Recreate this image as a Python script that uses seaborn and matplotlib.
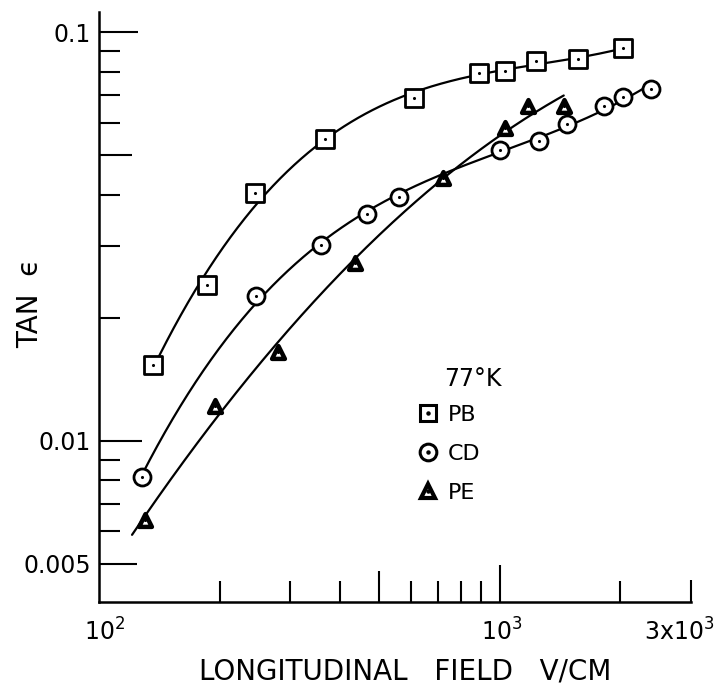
import numpy as np
import pandas as pd
import matplotlib
matplotlib.use("Agg")
import matplotlib.pyplot as plt
import matplotlib.transforms as mtransforms
import seaborn as sns
from matplotlib.lines import Line2D
from matplotlib.legend_handler import HandlerTuple

# Loss tangent versus longitudinal field at 77 K
pb_field = [136, 186, 245, 366, 610, 888, 1033, 1230, 1567, 2030]
pb_tan = [0.0153, 0.0240, 0.0403, 0.0546, 0.0691, 0.0795, 0.0804, 0.0849, 0.0858, 0.0912]

cd_field = [128, 246, 359, 465, 561, 1000, 1253, 1472, 1820, 2030, 2390]
cd_tan = [0.00816, 0.0226, 0.0302, 0.0358, 0.0395, 0.0514, 0.0542, 0.0595, 0.0660, 0.0694, 0.0725]

pe_field = [130, 195, 280, 435, 722, 1033, 1173, 1444]
pe_tan = [0.0064, 0.01216, 0.0165, 0.0272, 0.0439, 0.0583, 0.0659, 0.0659]

series_names = ["PB", "CD", "PE"]
series_markers = ["s", "o", "^"]
legend_title = "77°K"

x_major = [100, 500, 1000, 3000]
x_major_labels = [r"$10^2$", "", r"$10^3$", r"$3\mathrm{x}10^3$"]
x_minor = [200, 300, 400, 600, 700, 800, 900, 2000]
y_major = [0.005, 0.01, 0.05, 0.1]
y_major_labels = ["0.005", "0.01", "", "0.1"]
y_minor = [0.006, 0.007, 0.008, 0.009, 0.02, 0.03, 0.04, 0.06, 0.07, 0.08, 0.09]

sns.set_style("ticks")
plt.rcParams["font.family"] = ["DejaVu Sans"]
ink = "black"
plt.rcParams.update({"text.color": ink, "axes.labelcolor": ink,
                     "xtick.color": ink, "ytick.color": ink})

fig = plt.figure(figsize=(7.21, 6.85), dpi=100)
ax = fig.add_axes([99 / 721, 0.1216, 592 / 721, 0.861])

data = {
    "PB": (pb_field, pb_tan, 3),
    "CD": (cd_field, cd_tan, 3),
    "PE": (pe_field, pe_tan, 2),
}
curve_start = {"PB": 1.0, "CD": 1.0, "PE": 0.93}
marker_size = {"s": 150, "o": 150, "^": 85}
marker_edge = {"s": 2.0, "o": 2.0, "^": 3.2}

for name, marker in zip(series_names, series_markers):
    fx, ty, deg = data[name]
    lx, ly = np.log10(fx), np.log10(ty)
    coef = np.polyfit(lx, ly, deg)
    gx = np.linspace(lx.min() + np.log10(curve_start[name]), lx.max(), 200)
    curve = pd.DataFrame({"field": 10 ** gx, "tan": 10 ** np.polyval(coef, gx)})
    sns.lineplot(data=curve, x="field", y="tan", ax=ax, color=ink, lw=1.6,
                 sort=False, zorder=2)
    pts = pd.DataFrame({"field": fx, "tan": ty})
    sns.scatterplot(data=pts, x="field", y="tan", ax=ax, marker=marker,
                    s=marker_size[marker], facecolor="white", edgecolor=ink,
                    linewidth=marker_edge[marker], zorder=3)
    sns.scatterplot(data=pts, x="field", y="tan", ax=ax, marker="o", s=5,
                    color=ink, edgecolor=ink, linewidth=0, zorder=4)

ax.set_xscale("log")
ax.set_yscale("log")
ax.set_xlim(100, 3000)
ax.set_ylim(0.00404, 0.112)

ax.set_xticks(x_major)
ax.set_xticklabels(x_major_labels)
ax.set_xticks(x_minor, minor=True)
ax.set_xticklabels([""] * len(x_minor), minor=True)
ax.set_yticks(y_major)
ax.set_yticklabels(y_major_labels)
ax.set_yticks(y_minor, minor=True)
ax.set_yticklabels([""] * len(y_minor), minor=True)

ax.tick_params(which="both", direction="in", width=1.5, color=ink,
               labelsize=17, labelcolor=ink)
ax.tick_params(which="minor", length=15)
ax.tick_params(axis="y", which="major", pad=6)
ax.tick_params(axis="x", which="major", pad=12)

for side in ["top", "right"]:
    ax.spines[side].set_visible(False)
for side in ["left", "bottom"]:
    ax.spines[side].set_linewidth(1.8)
    ax.spines[side].set_color(ink)

# individual tick lengths
for tick, length in zip(ax.yaxis.get_major_ticks(), [27, 31, 24, 28]):
    tick.tick1line.set_markersize(length)
for tick, length in zip(ax.xaxis.get_major_ticks(), [0, 22, 27, 16]):
    tick.tick1line.set_markersize(length)

# nudge the x tick labels so the exponents sit like the lettering
for lab, dx in zip(ax.get_xticklabels(), [6, 0, 2, -12]):
    lab.set_transform(lab.get_transform() +
                      mtransforms.ScaledTranslation(dx / 100, 0, fig.dpi_scale_trans))

ax.set_xlabel("LONGITUDINAL   FIELD   V/CM", fontsize=20, color=ink, va="center")
ax.xaxis.set_label_coords(0.517, -0.1175)
ax.set_ylabel("TAN  ϵ", fontsize=20, color=ink, va="center")
ax.yaxis.set_label_coords(-0.1166, 0.505)

# legend with dotted-centre markers
handles = []
for name, marker in zip(series_names, series_markers):
    big = marker != "^"
    outer = Line2D([], [], ls="none", marker=marker,
                   markersize=12 if big else 10,
                   markerfacecolor="white", markeredgecolor=ink,
                   markeredgewidth=2.2 if big else 3.0)
    dot = Line2D([], [], ls="none", marker="o", markersize=2.2, color=ink)
    handles.append((outer, dot))
leg = ax.legend(handles, series_names, loc="upper left",
                bbox_to_anchor=(0.51, 0.36), frameon=False, fontsize=16,
                handlelength=1.0, handletextpad=0.4, labelspacing=0.85,
                borderpad=0.2,
                handler_map={tuple: HandlerTuple(ndivide=1)})
for t in leg.get_texts():
    t.set_color(ink)
ax.text(0.583, 0.378, legend_title, transform=ax.transAxes, fontsize=17,
        ha="left", va="center", color=ink)

fig.savefig("out.png", dpi=100, facecolor="white")
